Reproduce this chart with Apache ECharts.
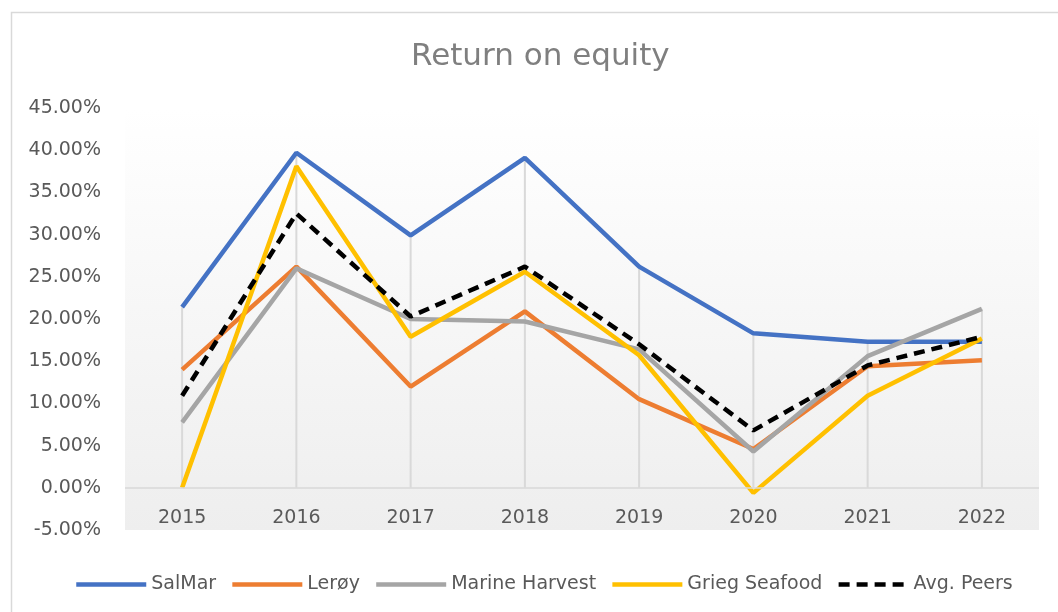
<!DOCTYPE html>
<html>
<head>
<meta charset="utf-8">
<script src="https://cdn.jsdelivr.net/npm/echarts@6/dist/echarts.min.js"></script>
<style>
html,body{margin:0;padding:0;background:#ffffff;}
#chart{width:1058px;height:612px;}
</style>
</head>
<body>
<div id="chart"></div>
<script>
const categories = ['2015','2016','2017','2018','2019','2020','2021','2022'];
const salmar        = [0.214, 0.397, 0.299, 0.391, 0.262, 0.183, 0.173, 0.173];
const leroy         = [0.140, 0.262, 0.120, 0.209, 0.105, 0.046, 0.144, 0.151];
const marineHarvest = [0.0775, 0.260, 0.200, 0.197, 0.164, 0.043, 0.156, 0.212];
const griegSeafood  = [0.000, 0.381, 0.179, 0.256, 0.157, -0.006, 0.109, 0.177];
const avgPeers      = [0.109, 0.325, 0.203, 0.262, 0.170, 0.068, 0.145, 0.179];
const yTicks = { min: -0.05, max: 0.45, interval: 0.05 };

const allSeries = [salmar, leroy, marineHarvest, griegSeafood, avgPeers];
const dropMax = categories.map((c, i) => Math.max.apply(null, allSeries.map(s => s[i])));

const FONT = 'DejaVu Sans';
const chart = echarts.init(document.getElementById('chart'), null, { renderer: 'canvas' });
chart.setOption({
  animation: false,
  backgroundColor: '#ffffff',
  graphic: [{
    type: 'rect', left: 9, top: 10, z: -10,
    shape: { x: 0, y: 0, width: 1100, height: 700 },
    style: { fill: 'none', stroke: '#d9d9d9', lineWidth: 1.5 }
  }],
  title: {
    text: 'Return on equity',
    left: 406,
    top: 36,
    textStyle: { fontFamily: FONT, fontSize: 31, fontWeight: 'normal', color: '#7f7f7f' }
  },
  grid: {
    left: 125, right: 19, top: 108, bottom: 82,
    show: true, borderWidth: 0,
    backgroundColor: {
      type: 'linear', x: 0, y: 0, x2: 0, y2: 1,
      colorStops: [{ offset: 0, color: '#ffffff' }, { offset: 1, color: '#eeeeee' }]
    }
  },
  legend: {
    left: 69, top: 570,
    itemWidth: 70, itemHeight: 5, itemGap: 14,
    itemStyle: { opacity: 0 },
    lineStyle: { width: 4.5 },
    data: ['SalMar', 'Lerøy', 'Marine Harvest', 'Grieg Seafood', 'Avg. Peers'],
    textStyle: { fontFamily: FONT, fontSize: 19, color: '#595959' }
  },
  xAxis: {
    type: 'category',
    data: categories,
    boundaryGap: true,
    axisLine: { show: false, onZero: false },
    axisTick: { show: false },
    axisLabel: { inside: true, margin: 2, fontFamily: FONT, fontSize: 19, color: '#595959' },
    splitLine: { show: false }
  },
  yAxis: {
    type: 'value',
    min: yTicks.min, max: yTicks.max, interval: yTicks.interval,
    axisLine: { show: false },
    axisTick: { show: false },
    splitLine: { show: false },
    axisLabel: {
      margin: 24, fontFamily: FONT, fontSize: 19, color: '#595959',
      formatter: v => (Math.round(v * 10000) / 100).toFixed(2) + '%'
    }
  },
  series: [
    {
      name: 'drop', type: 'bar', data: dropMax, barWidth: 2, z: 1,
      itemStyle: { color: '#d9d9d9' }, silent: true,
      markLine: {
        silent: true, symbol: 'none', label: { show: false },
        lineStyle: { color: '#d9d9d9', width: 1.5, type: 'solid' },
        data: [{ yAxis: 0 }]
      }
    },
    { name: 'SalMar', type: 'line', data: salmar, symbol: 'none', z: 3,
      lineStyle: { color: '#4472C4', width: 4.5 }, itemStyle: { color: '#4472C4' } },
    { name: 'Lerøy', type: 'line', data: leroy, symbol: 'none', z: 3,
      lineStyle: { color: '#ED7D31', width: 4.5 }, itemStyle: { color: '#ED7D31' } },
    { name: 'Marine Harvest', type: 'line', data: marineHarvest, symbol: 'none', z: 3,
      lineStyle: { color: '#A5A5A5', width: 4.5 }, itemStyle: { color: '#A5A5A5' } },
    { name: 'Grieg Seafood', type: 'line', data: griegSeafood, symbol: 'none', z: 3,
      lineStyle: { color: '#FFC000', width: 4.5 }, itemStyle: { color: '#FFC000' } },
    { name: 'Avg. Peers', type: 'line', data: avgPeers, symbol: 'none', z: 4,
      lineStyle: { color: '#000000', width: 4.5, type: [11, 7] }, itemStyle: { color: '#000000' } }
  ]
});
</script>
</body>
</html>
